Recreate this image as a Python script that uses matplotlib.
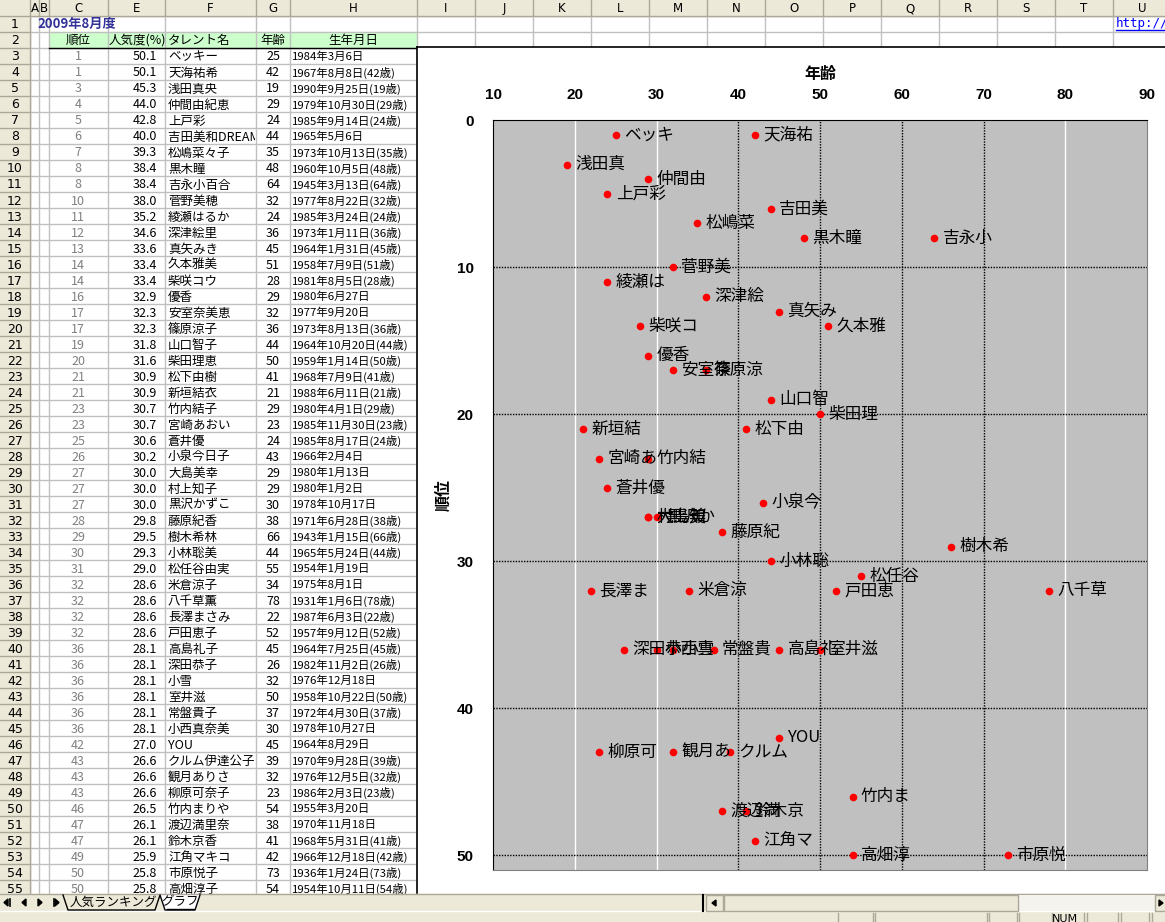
import matplotlib
matplotlib.use("Agg")
import matplotlib.pyplot as plt
from matplotlib.patches import Rectangle, Polygon
from matplotlib.transforms import Bbox

plt.rcParams['font.family'] = ['Noto Sans CJK JP', 'DejaVu Sans']

# 2009年8月度 タレント人気ランキング
ranks = [1, 1, 3, 4, 5, 6, 7, 8, 8, 10, 11, 12, 13, 14, 14, 16, 17, 17, 19, 20,
         21, 21, 23, 23, 25, 26, 27, 27, 27, 28, 29, 30, 31, 32, 32, 32, 32,
         36, 36, 36, 36, 36, 36, 42, 43, 43, 43, 46, 47, 47, 49, 50, 50]
popularity = [50.1, 50.1, 45.3, 44.0, 42.8, 40.0, 39.3, 38.4, 38.4, 38.0, 35.2,
              34.6, 33.6, 33.4, 33.4, 32.9, 32.3, 32.3, 31.8, 31.6, 30.9, 30.9,
              30.7, 30.7, 30.6, 30.2, 30.0, 30.0, 30.0, 29.8, 29.5, 29.3, 29.0,
              28.6, 28.6, 28.6, 28.6, 28.1, 28.1, 28.1, 28.1, 28.1, 28.1, 27.0,
              26.6, 26.6, 26.6, 26.5, 26.1, 26.1, 25.9, 25.8, 25.8]
names = ['ベッキー', '天海祐希', '浅田真央', '仲間由紀恵', '上戸彩',
         '吉田美和DREAMS COME TRUE', '松嶋菜々子', '黒木瞳', '吉永小百合',
         '菅野美穂', '綾瀬はるか', '深津絵里', '真矢みき', '久本雅美', '柴咲コウ',
         '優香', '安室奈美恵', '篠原涼子', '山口智子', '柴田理恵', '松下由樹',
         '新垣結衣', '竹内結子', '宮崎あおい', '蒼井優', '小泉今日子', '大島美幸',
         '村上知子', '黒沢かずこ', '藤原紀香', '樹木希林', '小林聡美', '松任谷由実',
         '米倉涼子', '八千草薫', '長澤まさみ', '戸田恵子', '高島礼子', '深田恭子',
         '小雪', '室井滋', '常盤貴子', '小西真奈美', 'YOU', 'クルム伊達公子',
         '観月ありさ', '柳原可奈子', '竹内まりや', '渡辺満里奈', '鈴木京香',
         '江角マキコ', '市原悦子', '高畑淳子']
ages = [25, 42, 19, 29, 24, 44, 35, 48, 64, 32, 24, 36, 45, 51, 28, 29, 32, 36,
        44, 50, 41, 21, 29, 23, 24, 43, 29, 29, 30, 38, 66, 44, 55, 34, 78, 22,
        52, 45, 26, 32, 50, 37, 30, 45, 39, 32, 23, 54, 38, 41, 42, 73, 54]
births = ['1984年3月6日', '1967年8月8日(42歳)', '1990年9月25日(19歳)',
          '1979年10月30日(29歳)', '1985年9月14日(24歳)', '1965年5月6日',
          '1973年10月13日(35歳)', '1960年10月5日(48歳)', '1945年3月13日(64歳)',
          '1977年8月22日(32歳)', '1985年3月24日(24歳)', '1973年1月11日(36歳)',
          '1964年1月31日(45歳)', '1958年7月9日(51歳)', '1981年8月5日(28歳)',
          '1980年6月27日', '1977年9月20日', '1973年8月13日(36歳)',
          '1964年10月20日(44歳)', '1959年1月14日(50歳)', '1968年7月9日(41歳)',
          '1988年6月11日(21歳)', '1980年4月1日(29歳)', '1985年11月30日(23歳)',
          '1985年8月17日(24歳)', '1966年2月4日', '1980年1月13日', '1980年1月2日',
          '1978年10月17日', '1971年6月28日(38歳)', '1943年1月15日(66歳)',
          '1965年5月24日(44歳)', '1954年1月19日', '1975年8月1日',
          '1931年1月6日(78歳)', '1987年6月3日(22歳)', '1957年9月12日(52歳)',
          '1964年7月25日(45歳)', '1982年11月2日(26歳)', '1976年12月18日',
          '1958年10月22日(50歳)', '1972年4月30日(37歳)', '1978年10月27日',
          '1964年8月29日', '1970年9月28日(39歳)', '1976年12月5日(32歳)',
          '1986年2月3日(23歳)', '1955年3月20日', '1970年11月18日',
          '1968年5月31日(41歳)', '1966年12月18日(42歳)', '1936年1月24日(73歳)',
          '1954年10月11日(54歳)']
headers = ['順位', '人気度(%)', 'タレント名', '年齢', '生年月日']
col_letters = ['A', 'B', 'C', 'E', 'F', 'G', 'H', 'I', 'J', 'K', 'L', 'M', 'N',
               'O', 'P', 'Q', 'R', 'S', 'T', 'U']
age_ticks = [10, 20, 30, 40, 50, 60, 70, 80, 90]
rank_ticks = [0, 10, 20, 30, 40, 50]

W, H = 1165, 922
BEIGE = '#ECE9D8'
GRID = '#C0C0C0'
col_edges = [30, 39, 49, 108, 165, 256, 290, 417] + [417 + 58 * i for i in range(1, 14)]
ROW_H = 16


def row_top(r):
    return 16 + (r - 1) * ROW_H


fig = plt.figure(figsize=(W / 100, H / 100), dpi=100)
sheet = fig.add_axes([0, 0, 1, 1])
sheet.set_xlim(0, W)
sheet.set_ylim(H, 0)
sheet.axis('off')

# セル背景・罫線
sheet.add_patch(Rectangle((0, 0), W, H, color='white', zorder=0))
sheet.add_patch(Rectangle((49, row_top(2)), 417 - 49, ROW_H, color='#CCFFCC', zorder=1))
for x in col_edges:
    sheet.plot([x, x], [16, 894], color=GRID, lw=1, zorder=2)
for r in range(1, 57):
    sheet.plot([30, W], [row_top(r), row_top(r)], color=GRID, lw=1, zorder=2)
sheet.plot([49, 417], [row_top(3), row_top(3)], color='black', lw=1, zorder=3)

# 列見出し
sheet.add_patch(Rectangle((0, 0), W, 16, color=BEIGE, zorder=3))
sheet.plot([0, W], [16, 16], color='#ACA899', lw=1, zorder=4)
for i, c in enumerate(col_letters):
    x0, x1 = col_edges[i], col_edges[i + 1]
    sheet.plot([x1, x1], [0, 16], color='#ACA899', lw=1, zorder=4)
    sheet.text((x0 + x1) / 2, 8.5, c, ha='center', va='center', fontsize=8.5,
               family='DejaVu Sans', zorder=5)
sheet.plot([30, 30], [0, 16], color='#ACA899', lw=1, zorder=4)

# 行番号
sheet.add_patch(Rectangle((0, 16), 30, 894 - 16, color=BEIGE, zorder=3))
sheet.plot([30, 30], [16, 894], color='#ACA899', lw=1, zorder=4)
for r in range(1, 56):
    sheet.plot([0, 30], [row_top(r + 1), row_top(r + 1)], color='#ACA899', lw=1, zorder=4)
    sheet.text(15, row_top(r) + 9, str(r), ha='center', va='center', fontsize=9,
               family='DejaVu Sans', zorder=5)

# 見出し行
sheet.text(37, row_top(1) + 8, '2009年8月度', fontsize=9.5, weight='bold',
           color='#333399', va='center', zorder=5)
hy = row_top(2) + 8.5
sheet.text(78, hy, headers[0], ha='center', va='center', fontsize=9, zorder=5)
sheet.text(137, hy, headers[1], ha='center', va='center', fontsize=9, zorder=5)
sheet.text(168, hy, headers[2], ha='left', va='center', fontsize=9, zorder=5)
sheet.text(273, hy, headers[3], ha='center', va='center', fontsize=9, zorder=5)
sheet.text(353, hy, headers[4], ha='center', va='center', fontsize=9, zorder=5)

# データ行
name_clip = Bbox.from_extents(165, 0, 255, H)
for i in range(len(names)):
    y = row_top(i + 3) + 9
    sheet.text(78, y, str(ranks[i]), ha='center', va='center', fontsize=9,
               color='#808080', zorder=5)
    sheet.text(157, y, f'{popularity[i]:.1f}', ha='right', va='center',
               fontsize=9, zorder=5)
    t = sheet.text(168, y, names[i], ha='left', va='center', fontsize=9, zorder=5)
    t.set_clip_box(name_clip)
    t.set_clip_on(True)
    sheet.text(273, y, str(ages[i]), ha='center', va='center', fontsize=9, zorder=5)
    sheet.text(292, y, births[i], ha='left', va='center', fontsize=8.2, zorder=5)

sheet.text(1116, row_top(1) + 8, 'http://www', color='blue', fontsize=9,
           family='DejaVu Sans Mono', va='center', zorder=5)
sheet.plot([1116, W], [row_top(1) + 14, row_top(1) + 14], color='blue', lw=1, zorder=5)

# グラフエリア
sheet.add_patch(Rectangle((417, 47.5), W - 417, 894 - 47.5, facecolor='white',
                          edgecolor='none', zorder=6))
sheet.plot([417, 417], [47.5, 894], color='black', lw=1.2, zorder=7)
sheet.plot([417, W], [47.5, 47.5], color='black', lw=1.2, zorder=7)

# シートタブ・スクロールバー
sheet.add_patch(Rectangle((0, 894), W, H - 894, color=BEIGE, zorder=8))
sheet.plot([0, W], [894, 894], color='#ACA899', lw=1, zorder=9)
sheet.plot([0, W], [911, 911], color='white', lw=1, zorder=9)
for x, d, bar in [(6, -1, True), (24, -1, False), (40, 1, False), (57, 1, True)]:
    sheet.add_patch(Polygon([[x - 2 * d, 899], [x - 2 * d, 906], [x + 2 * d, 902.5]],
                            color='black', zorder=9))
    if bar:
        sheet.plot([x - 3.5 * d, x - 3.5 * d], [899, 906], color='black', lw=1.2, zorder=9)
sheet.plot([63, 68, 155, 160, 165, 195, 200], [895, 910, 910, 895, 910, 910, 895],
           color='black', lw=1, zorder=9)
sheet.add_patch(Polygon([[160, 895], [165, 910], [195, 910], [200, 895]],
                        color='white', zorder=8.5))
sheet.text(113, 902, '人気ランキング', ha='center', va='center', fontsize=9, zorder=9)
sheet.text(180, 902, 'グラフ', ha='center', va='center', fontsize=9, zorder=9)
sheet.plot([167, 194], [909, 909], color='black', lw=1, zorder=9)
sheet.plot([703, 703], [895, 911], color='black', lw=1.5, zorder=9)
sheet.add_patch(Rectangle((1018, 895), 137, 16, facecolor='#F4F3EE', edgecolor='none',
                          hatch='....', zorder=9))
for x0, x1 in [(706, 723), (724, 1018), (1155, 1168)]:
    sheet.add_patch(Rectangle((x0, 895), x1 - x0, 16, facecolor=BEIGE,
                              edgecolor='#ACA899', lw=1, zorder=9.5))
sheet.add_patch(Polygon([[716, 900], [716, 906], [712, 903]], color='black', zorder=10))
sheet.add_patch(Polygon([[1159, 900], [1159, 906], [1163, 903]], color='black', zorder=10))
for x in [838, 873, 875, 987, 989, 1017, 1019, 1052, 1084, 1087, 1118, 1121, 1149, 1152]:
    sheet.plot([x, x], [913, H], color='#ACA899', lw=1, zorder=9)
sheet.text(1065, 924, 'NUM', ha='center', va='bottom', fontsize=8,
           family='DejaVu Sans', zorder=10, clip_on=True)

# 散布図
ax = fig.add_axes([493 / W, 1 - 870 / H, (1147 - 493) / W, (870 - 120.5) / H], zorder=10)
ax.set_facecolor('#C0C0C0')
ax.set_xlim(10, 90)
ax.set_ylim(51, 0)
ax.xaxis.tick_top()
ax.xaxis.set_label_position('top')
ax.set_xticks(age_ticks)
ax.set_yticks(rank_ticks)
ax.tick_params(length=0, labelsize=11)
ax.tick_params(axis='x', pad=13)
ax.tick_params(axis='y', pad=14)
for lab in ax.get_xticklabels() + ax.get_yticklabels():
    lab.set_fontweight('bold')
    lab.set_family(['Liberation Sans', 'DejaVu Sans'])

for x in [20, 30, 80]:
    ax.axvline(x, color='white', lw=1, zorder=1)
for x in [40, 50, 60, 70]:
    ax.axvline(x, color='black', lw=1, ls=(0, (1, 1)), zorder=1)
for y in [10, 20, 30, 40, 50]:
    ax.axhline(y, color='black', lw=1, ls=(0, (1, 1)), zorder=1)

ax.plot(ages, ranks, 'o', color='red', markersize=5.5, markeredgewidth=0, zorder=3)
for a, r, n in zip(ages, ranks, names):
    ax.annotate(n[:3], (a, r), xytext=(6, 0), textcoords='offset points',
                ha='left', va='center', fontsize=12, zorder=4)

ax.set_xlabel('年齢', fontsize=11.5, fontweight='bold', va='center')
ax.xaxis.set_label_coords(0.5, 1.062)
ax.set_ylabel('順位', fontsize=11.5, fontweight='bold', va='center')
ax.yaxis.set_label_coords(-0.0765, 0.5)

for s in ['top', 'left']:
    ax.spines[s].set_color('black')
for s in ['right', 'bottom']:
    ax.spines[s].set_color('#808080')

fig.savefig('out.png', dpi=100)
